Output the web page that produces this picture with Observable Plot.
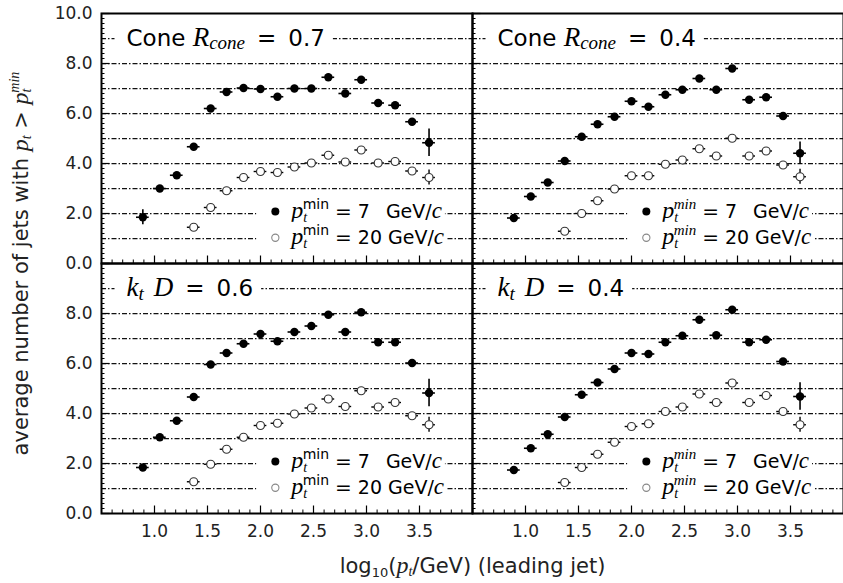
<!DOCTYPE html>
<html><head><meta charset="utf-8">
<script src="https://cdn.jsdelivr.net/npm/d3@7"></script>
<script src="https://cdn.jsdelivr.net/npm/@observablehq/plot@0.6"></script>
<style>html,body{margin:0;padding:0;background:#fff}</style>
</head><body><div id="chart"></div>
<script>
// ---------- data ----------
const panels = ["cone07", "cone04", "kt06", "kt04"];
const panelCol = ["left", "right", "left", "right"];
const panelRow = ["top", "top", "bottom", "bottom"];
const xBins = [0.89, 1.05, 1.21, 1.37, 1.53, 1.68, 1.84, 2.00, 2.16, 2.32, 2.48, 2.64, 2.80, 2.95, 3.11, 3.27, 3.43, 3.59];

// pt_min = 7 GeV/c (filled)
const n7_cone07 = [1.85, 3.00, 3.53, 4.67, 6.20, 6.86, 7.02, 6.98, 6.67, 7.00, 7.00, 7.45, 6.80, 7.35, 6.42, 6.33, 5.67, 4.83];
const n7_cone04 = [1.82, 2.68, 3.24, 4.10, 5.07, 5.57, 5.87, 6.49, 6.27, 6.75, 6.95, 7.40, 6.95, 7.80, 6.55, 6.65, 5.90, 4.41];
const n7_kt06   = [1.84, 3.05, 3.71, 4.66, 5.96, 6.42, 6.79, 7.18, 6.89, 7.26, 7.50, 7.95, 7.26, 8.05, 6.85, 6.85, 6.02, 4.82];
const n7_kt04   = [1.74, 2.61, 3.17, 3.86, 4.75, 5.24, 5.78, 6.42, 6.38, 6.85, 7.11, 7.75, 7.13, 8.15, 6.85, 6.95, 6.08, 4.68];
const e7_cone07 = [0.30, 0.05, 0.05, 0.05, 0.05, 0.05, 0.05, 0.05, 0.05, 0.05, 0.05, 0.05, 0.05, 0.05, 0.05, 0.05, 0.10, 0.55];
const e7_cone04 = [0.10, 0.05, 0.05, 0.05, 0.05, 0.05, 0.05, 0.05, 0.05, 0.05, 0.05, 0.05, 0.05, 0.05, 0.05, 0.05, 0.10, 0.45];
const e7_kt06   = [0.10, 0.05, 0.05, 0.05, 0.05, 0.05, 0.05, 0.05, 0.05, 0.05, 0.05, 0.05, 0.05, 0.05, 0.05, 0.05, 0.10, 0.55];
const e7_kt04   = [0.10, 0.05, 0.05, 0.05, 0.05, 0.05, 0.05, 0.05, 0.05, 0.05, 0.05, 0.05, 0.05, 0.05, 0.05, 0.05, 0.10, 0.55];

// pt_min = 20 GeV/c (open)
const n20_cone07 = [null, null, null, 1.45, 2.24, 2.91, 3.44, 3.68, 3.64, 3.86, 4.02, 4.33, 4.06, 4.54, 4.02, 4.08, 3.70, 3.44];
const n20_cone04 = [null, null, null, 1.29, 2.00, 2.51, 2.98, 3.51, 3.51, 3.97, 4.14, 4.59, 4.30, 5.01, 4.30, 4.50, 3.94, 3.47];
const n20_kt06   = [null, null, null, 1.27, 1.97, 2.57, 3.05, 3.52, 3.61, 3.98, 4.22, 4.58, 4.28, 4.91, 4.26, 4.44, 3.91, 3.55];
const n20_kt04   = [null, null, null, 1.24, 1.84, 2.37, 2.85, 3.48, 3.59, 4.08, 4.26, 4.78, 4.44, 5.22, 4.44, 4.72, 4.08, 3.55];
const e20_all    = [0, 0, 0, 0.05, 0.05, 0.05, 0.05, 0.05, 0.05, 0.05, 0.05, 0.05, 0.05, 0.05, 0.05, 0.05, 0.10, 0.30];

const xTickLabels = [1.0, 1.5, 2.0, 2.5, 3.0, 3.5];
const yTickLabelsTop = [0, 2, 4, 6, 8, 10];
const yTickLabelsBottom = [0, 2, 4, 6, 8];
const gridValues = [1, 2, 3, 4, 5, 6, 7, 8, 9];
const xMinor = d3.range(0.6, 4.0, 0.1).map(v => +v.toFixed(1));
const xMajor = [1.0, 1.5, 2.0, 2.5, 3.0, 3.5];
const yMinor = d3.range(0, 10.01, 0.2).map(v => +v.toFixed(1));
const yMajor = [0, 2, 4, 6, 8, 10];

const seriesN7 = {cone07: n7_cone07, cone04: n7_cone04, kt06: n7_kt06, kt04: n7_kt04};
const seriesE7 = {cone07: e7_cone07, cone04: e7_cone04, kt06: e7_kt06, kt04: e7_kt04};
const seriesN20 = {cone07: n20_cone07, cone04: n20_cone04, kt06: n20_kt06, kt04: n20_kt04};

// ---------- tables ----------
const pts7 = [], pts20 = [];
panels.forEach((p, i) => {
  xBins.forEach((x, k) => {
    if (seriesN7[p][k] != null) pts7.push({fx: panelCol[i], fy: panelRow[i], x, y: seriesN7[p][k], e: seriesE7[p][k]});
    if (seriesN20[p][k] != null) pts20.push({fx: panelCol[i], fy: panelRow[i], x, y: seriesN20[p][k], e: e20_all[k]});
  });
});
const titles = panels.map((p, i) => ({fx: panelCol[i], fy: panelRow[i], key: "§title_" + p}));
const legendRows = [];
panels.forEach((p, i) => {
  legendRows.push({fx: panelCol[i], fy: panelRow[i], s: "7", key: "§leg7_" + panelCol[i]});
  legendRows.push({fx: panelCol[i], fy: panelRow[i], s: "20", key: "§leg20_" + panelCol[i]});
});
const yLabs = [
  ...yTickLabelsTop.map(v => ({fy: "top", v})),
  ...yTickLabelsBottom.map(v => ({fy: "bottom", v}))
];
const xLabs = [];
["left", "right"].forEach(c => xTickLabels.forEach(v => xLabs.push({fx: c, v})));

// ---------- layout / style ----------
const W = 843, H = 583, ML = 100, MR = 0, MT = 12, MB = 70;
const FW = (W - ML - MR) / 2, FH = (H - MT - MB) / 2;
const halfBin = 0.06;
const legSymX = 2.14, legTextX = 2.29;
const legY = {"7": 2.08, "20": 1.03};
const SANS = "DejaVu Sans";

const plot = Plot.plot({
  width: W, height: H,
  marginLeft: ML, marginRight: MR, marginTop: MT, marginBottom: MB,
  style: {fontFamily: SANS, fontSize: "17px", background: "#fff", color: "#000"},
  x: {domain: [0.5, 4.0], axis: null},
  y: {domain: [0, 10], axis: null},
  fx: {domain: ["left", "right"], axis: null, padding: 0},
  fy: {domain: ["top", "bottom"], axis: null, padding: 0},
  marks: [
    // dash-dot grid lines
    Plot.ruleY(gridValues, {stroke: "#111", strokeWidth: 1.25, strokeDasharray: "5,2,1.5,2"}),
    // inner ticks
    Plot.ruleY(yMinor, {stroke: "#000", strokeWidth: 1, insetRight: FW - 4}),
    Plot.ruleY(yMajor, {stroke: "#000", strokeWidth: 1.2, insetRight: FW - 9}),
    Plot.ruleX(xMinor, {stroke: "#000", strokeWidth: 1, insetTop: FH - 4}),
    Plot.ruleX(xMajor, {stroke: "#000", strokeWidth: 1.2, insetTop: FH - 8}),
    // panel titles (a white box masks the grid line behind them)
    Plot.text(titles, {fx: "fx", fy: "fy", y: () => 9, frameAnchor: "left", dx: 25, text: "key",
      textAnchor: "start", lineAnchor: "middle", fontSize: 23, fill: "#000"}),
    // legend
    Plot.text(legendRows, {fx: "fx", fy: "fy", x: () => legTextX, y: d => legY[d.s], text: "key",
      textAnchor: "start", lineAnchor: "middle", fontSize: 19, fill: "#000"}),
    Plot.dot(legendRows.filter(d => d.s === "7"), {fx: "fx", fy: "fy", x: () => legSymX, y: d => legY[d.s], r: 4, fill: "#000"}),
    Plot.dot(legendRows.filter(d => d.s === "20"), {fx: "fx", fy: "fy", x: () => legSymX, y: d => legY[d.s], r: 3.6, fill: "#fff", stroke: "#888", strokeWidth: 1.1}),
    // error bars
    Plot.ruleY(pts7, {fx: "fx", fy: "fy", y: "y", x1: d => d.x - halfBin, x2: d => d.x + halfBin, stroke: "#000", strokeWidth: 1.6}),
    Plot.ruleX(pts7, {fx: "fx", fy: "fy", x: "x", y1: d => d.y - d.e, y2: d => d.y + d.e, stroke: "#000", strokeWidth: 1.6}),
    Plot.ruleY(pts20, {fx: "fx", fy: "fy", y: "y", x1: d => d.x - halfBin, x2: d => d.x + halfBin, stroke: "#000", strokeWidth: 1.4}),
    Plot.ruleX(pts20, {fx: "fx", fy: "fy", x: "x", y1: d => d.y - d.e, y2: d => d.y + d.e, stroke: "#000", strokeWidth: 1.4}),
    // points
    Plot.dot(pts20, {fx: "fx", fy: "fy", x: "x", y: "y", r: 4, fill: "#fff", stroke: "#333", strokeWidth: 1.2}),
    Plot.dot(pts7, {fx: "fx", fy: "fy", x: "x", y: "y", r: 4.2, fill: "#000"}),
    // frame
    Plot.frame({stroke: "#000", strokeWidth: 2}),
    // tick labels
    Plot.text(yLabs, {fx: () => "left", fy: "fy", y: "v", text: d => d3.format(".1f")(d.v), frameAnchor: "left",
      textAnchor: "end", lineAnchor: "middle", dx: -9, fontSize: 17, fill: "#222"}),
    Plot.text(xLabs, {fx: "fx", fy: () => "bottom", x: "v", text: d => d3.format(".1f")(d.v), frameAnchor: "bottom",
      lineAnchor: "middle", dy: 18, fontSize: 17, fill: "#222"}),
    // axis titles
    Plot.text(["§ylabel"], {fx: () => "left", fy: () => "top", frameAnchor: "bottom-left", dx: -80, rotate: -90,
      textAnchor: "middle", lineAnchor: "middle", fontSize: 21, fill: "#222"}),
    Plot.text(["§xlabel"], {fx: () => "right", fy: () => "bottom", frameAnchor: "bottom-left", dy: 53,
      textAnchor: "middle", lineAnchor: "middle", fontSize: 21, fill: "#222"})
  ]
});

document.getElementById("chart").appendChild(plot);

// ---------- rich (math) text ----------
const M = (s, fs, extra = "") => `<tspan font-family="Liberation Serif" font-style="italic" font-size="${fs}" ${extra}>${s}</tspan>`;
const S = (s, fs, extra = "") => `<tspan font-size="${fs}" ${extra}>${s}</tspan>`;
const legend = (num, gap, italicMin) =>
  `${M("p", 24)}${M("t", 14, 'dy="4"')}` +
  (italicMin ? M("min", 15, 'dx="-4.5" dy="-13"') : S("min", 14, 'dx="-4.5" dy="-13"')) +
  `${S("=", 20, 'dy="9" dx="6"')}${S(num, 19, 'dx="6"')}${S("GeV/", 19, `dx="${gap}"`)}${M("c", 23)}`;
const rich = {
  "§title_cone07": `Cone ${M("R", 27)}${M("cone", 19, 'dy="3"')}${S("=", 23, 'dy="-3" dx="12"')}${S("0.7", 23, 'dx="12"')}`,
  "§title_cone04": `Cone ${M("R", 27)}${M("cone", 19, 'dy="3"')}${S("=", 23, 'dy="-3" dx="12"')}${S("0.4", 23, 'dx="12"')}`,
  "§title_kt06": `${M("k", 27)}${M("t", 19, 'dy="4"')}${M("D", 27, 'dy="-4" dx="10"')}${S("=", 23, 'dx="12"')}${S("0.6", 23, 'dx="12"')}`,
  "§title_kt04": `${M("k", 27)}${M("t", 19, 'dy="4"')}${M("D", 27, 'dy="-4" dx="10"')}${S("=", 23, 'dx="12"')}${S("0.4", 23, 'dx="12"')}`,
  "§leg7_left": legend("7", 16, false),
  "§leg20_left": legend("20", 6, false),
  "§leg7_right": legend("7", 16, true),
  "§leg20_right": legend("20", 6, true),
  "§ylabel": `average number of jets with ${M("p", 24)}${M("t", 14, 'dy="3"')}<tspan dy="-3"> &gt; </tspan>${M("p", 24)}${M("t", 14, 'dy="3"')}${M("min", 14, 'dx="-4" dy="-12"')}`,
  "§xlabel": `log<tspan font-size="13" dy="4">10</tspan><tspan dy="-4">(</tspan>${M("p", 24)}${M("t", 14, 'dy="3"')}<tspan dy="-3">/GeV) (leading jet)</tspan>`
};
// white boxes behind titles and legend rows (they interrupt the dash-dot lines)
const maskPad = {"§title": [12, 8], "§leg": [33, 3]};
d3.select(plot).selectAll("text").each(function () {
  const k = this.textContent;
  if (!rich[k]) return;
  this.innerHTML = rich[k];
  const pre = Object.keys(maskPad).find(p => k.startsWith(p));
  if (!pre) return;
  const [padL, padR] = maskPad[pre];
  const bb = this.getBBox();
  const r = document.createElementNS("http://www.w3.org/2000/svg", "rect");
  r.setAttribute("x", bb.x - padL);
  r.setAttribute("y", bb.y);
  r.setAttribute("width", bb.width + padL + padR);
  r.setAttribute("height", bb.height);
  r.setAttribute("fill", "#fff");
  r.setAttribute("stroke", "none");
  const t = this.getAttribute("transform");
  if (t) r.setAttribute("transform", t);
  this.parentNode.insertBefore(r, this);
});
</script>
</body></html>
